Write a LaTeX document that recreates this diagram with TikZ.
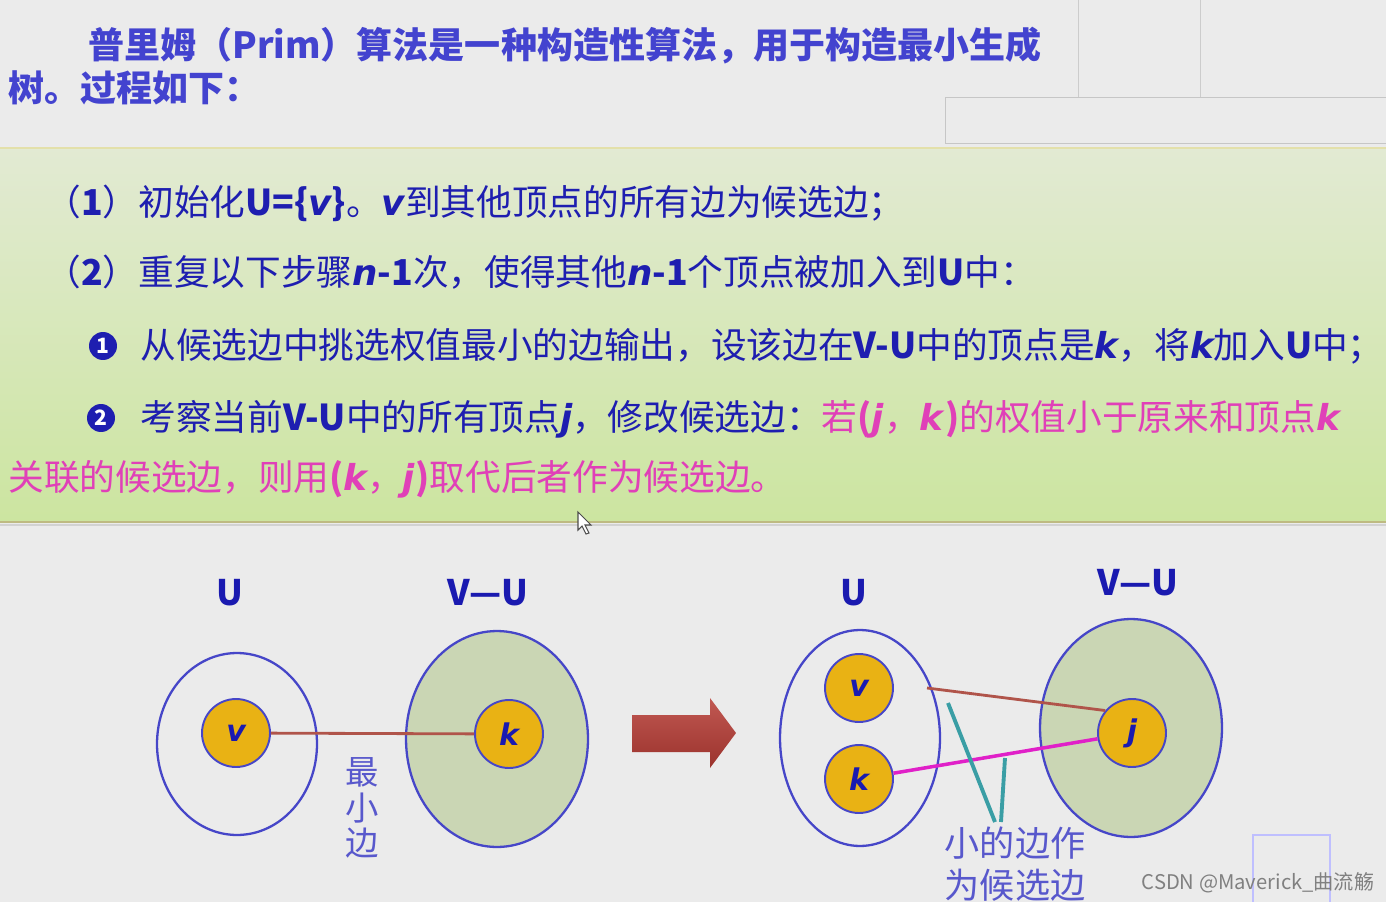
\documentclass[tikz,border=0pt]{standalone}
\usepackage{fontspec}
\setmainfont{Noto Sans CJK SC}
\newfontfamily\varfont{DejaVu Sans}
\usetikzlibrary{shapes.geometric}

\definecolor{bggray}{HTML}{EBEBEB}
\definecolor{titleblue}{HTML}{4343CF}
\definecolor{textblue}{HTML}{1E1EB0}
\definecolor{pinktext}{HTML}{E040B8}
\definecolor{labelblue}{HTML}{1A1AB0}
\definecolor{lavender}{HTML}{5858CC}
\definecolor{ringblue}{HTML}{4646C8}
\definecolor{vertexfill}{HTML}{E9B214}
\definecolor{setfill}{HTML}{CAD6B4}
\definecolor{edgebrown}{HTML}{B0544A}
\definecolor{edgepink}{HTML}{E020C8}
\definecolor{edgeteal}{HTML}{3A9EA5}
\definecolor{arrowred}{HTML}{B63B34}
\definecolor{paneltop}{HTML}{E2EAD3}
\definecolor{panelbottom}{HTML}{CCE5A0}

\newcommand\vi[1]{{\varfont\bfseries\itshape #1}}

\begin{document}
\begin{tikzpicture}[x=0.02cm, y=-0.02cm,
  every node/.style={inner sep=0pt},
  line/.style={anchor=base west, text=textblue, font=\fontsize{20.3}{24}\selectfont},
  bullet/.style={circle, fill=textblue, text=white, minimum size=0.56cm, font=\bfseries\fontsize{12}{12}\selectfont},
  vertex/.style={circle, draw=ringblue, line width=1.1pt, fill=vertexfill, minimum size=1.36cm, text=labelblue, font=\varfont\bfseries\itshape\fontsize{17}{17}\selectfont},
  vset/.style={ellipse, draw=ringblue, line width=1.3pt},
  setname/.style={text=labelblue, font=\bfseries\fontsize{20}{20}\selectfont},
  note/.style={text=lavender, align=center}]
  \useasboundingbox (0,0) rectangle (1386,902);
  \fill[bggray] (0,0) rectangle (1386,902);

  % screen panels, top right
  \draw[gray!40, fill=bggray] (1078,-2) rectangle (1200,97);
  \draw[gray!40, fill=bggray] (1200,-2) rectangle (1390,97);
  \draw[gray!45, fill=bggray] (945,97) rectangle (1390,143);

  % title
  \node[line, text=titleblue, font=\bfseries\fontsize{20.5}{24}\selectfont] (t1) at (88,59) {普里姆（Prim）算法是一种构造性算法，用于构造最小生成};
  \node[line, text=titleblue, font=\bfseries\fontsize{20.5}{24}\selectfont] (t2) at (8,102) {树。过程如下：};

  % green panel
  \shade[top color=paneltop, bottom color=panelbottom] (0,148) rectangle (1386,522);
  \draw[olive!25, line width=1pt] (0,148) -- (1386,148);
  \draw[black!30!olive!45, line width=1.5pt] (0,522) -- (1386,522);
  \draw[gray!35, line width=1.5pt] (0,525) -- (1386,525);

  \node[line] (s1) at (45,215) {（\textbf{1}）初始化\textbf{U=\{\vi{v}\}}。\vi{v}到其他顶点的所有边为候选边；};
  \node[line] (s2) at (45,285) {（\textbf{2}）重复以下步骤\vi{n}\textbf{-1}次，使得其他\vi{n}\textbf{-1}个顶点被加入到\textbf{U}中：};
  \node[bullet] (b1) at (103,346) {1};
  \node[line] (s3) at (140,358) {从候选边中挑选权值最小的边输出，设该边在\textbf{V-U}中的顶点是\vi{k}，将\vi{k}加入\textbf{U}中；};
  \node[bullet] (b2) at (101,418) {2};
  \node[line] (s4) at (140,430) {考察当前\textbf{V-U}中的所有顶点\vi{j}，修改候选边：{\color{pinktext}若\textbf{(}\vi{j}，\vi{k}\textbf{)}的权值小于原来和顶点\vi{k}}};
  \node[line, text=pinktext] (s5) at (8,490) {关联的候选边，则用\textbf{(}\vi{k}，\vi{j}\textbf{)}取代后者作为候选边。};

  % mouse pointer
  \draw[black!70, fill=white, line width=0.6pt] (578,512) -- (578,530) -- (582,526) -- (586,534) -- (589,533) -- (585,525) -- (591,525) -- cycle;

  % before
  \node[setname] (lu1) at (230,593) {U};
  \node[setname] (lr1) at (488,593) {V—U};
  \node[vset, minimum width=3.2cm, minimum height=3.64cm] (U1) at (237,744) {};
  \node[vset, fill=setfill, minimum width=3.64cm, minimum height=4.32cm] (R1) at (497,739) {};
  \node[vertex] (v1) at (236,733) {v};
  \node[vertex] (k1) at (509,734) {k};
  \draw[edgebrown, line width=1.6pt] (v1) -- (k1);
  \node[note, font=\fontsize{19}{20}\selectfont] (m1) at (362,808) {最\\小\\边};

  % big arrow
  \shade[top color=arrowred!85!white, bottom color=arrowred!85!black] (632,715) -- (710,715) -- (710,698) -- (736,733) -- (710,768) -- (710,752) -- (632,752) -- cycle;

  % after
  \node[setname] (lu2) at (854,593) {U};
  \node[setname] (lr2) at (1138,583) {V—U};
  \node[vset, minimum width=3.2cm, minimum height=4.32cm] (U2) at (860,738) {};
  \node[vset, fill=setfill, minimum width=3.64cm, minimum height=4.36cm] (R2) at (1131,728) {};
  \coordinate (c1) at (927,688);
  \coordinate (p1) at (948,703);
  \coordinate (p2) at (995,822);
  \coordinate (p3) at (1005,758);
  \coordinate (p4) at (1001,822);
  \node[vertex] (v2) at (859,688) {v};
  \node[vertex] (k2) at (859,779) {k};
  \node[vertex] (j2) at (1132,733) {j};
  \draw[edgebrown, line width=1.6pt] (c1) -- (j2.140);
  \draw[edgepink, line width=2pt] (k2) -- (j2);
  \draw[edgeteal, line width=2.2pt] (p1) -- (p2);
  \draw[edgeteal, line width=2.2pt] (p3) -- (p4);
  \node[note, font=\fontsize{20}{24}\selectfont] (m2) at (1015,864) {小的边作\\为候选边};

  % watermark
  \draw[blue!25, fill=bggray, line width=1.5pt] (1253,835) rectangle (1330,904);
  \node[text=gray, font=\fontsize{11.5}{12}\selectfont] (wm) at (1258,883) {CSDN @Maverick\_曲流觞};
\end{tikzpicture}
\end{document}
